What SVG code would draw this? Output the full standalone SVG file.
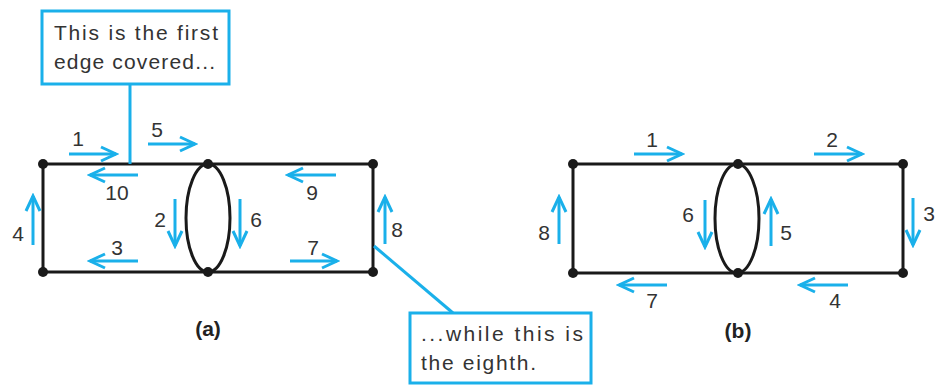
<svg xmlns="http://www.w3.org/2000/svg" width="943" height="385" viewBox="0 0 943 385">
<style>
.edge{stroke:#1a1a1a;stroke-width:3;fill:none}
.node{fill:#1a1a1a}
.arr{stroke:#1ab0ea;stroke-width:3;fill:none;marker-end:url(#ah)}
.call{stroke:#1ab0ea;stroke-width:3;fill:none}
.box{stroke:#1ab0ea;stroke-width:3;fill:#fff}
.lbl{font-family:"Liberation Sans",Arial,sans-serif;font-size:21px;fill:#333}
.cap{font-family:"Liberation Sans",Arial,sans-serif;font-size:21px;fill:#222;font-weight:bold}
.txt{font-family:"Liberation Sans",Arial,sans-serif;font-size:21px;fill:#333}
</style>
<defs>
<marker id="ah" markerUnits="userSpaceOnUse" markerWidth="20" markerHeight="18" refX="17" refY="9" orient="auto">
<path d="M2,2 L17,9 L2,16" stroke="#1ab0ea" stroke-width="3" fill="none"/>
</marker>
</defs>
<rect width="943" height="385" fill="#fff"/>

<g id="graph-a-edges" class="edges">
<path class="edge" d="M43,164 H373 V272 H43 Z"/>
<ellipse class="edge" cx="208" cy="218" rx="22" ry="54"/>
</g>
<g id="node-a1"><circle class="node" cx="43" cy="164" r="5"/></g>
<g id="node-a2"><circle class="node" cx="208" cy="164" r="5"/></g>
<g id="node-a3"><circle class="node" cx="373" cy="164" r="5"/></g>
<g id="node-a4"><circle class="node" cx="43" cy="272" r="5"/></g>
<g id="node-a5"><circle class="node" cx="208" cy="272" r="5"/></g>
<g id="node-a6"><circle class="node" cx="373" cy="272" r="5"/></g>

<g id="connectors-a">
<line class="arr" x1="69" y1="154" x2="116" y2="154"/>
<line class="arr" x1="148" y1="144" x2="195" y2="144"/>
<line class="arr" x1="138" y1="175" x2="90" y2="175"/>
<line class="arr" x1="336" y1="175" x2="288" y2="175"/>
<line class="arr" x1="33" y1="245" x2="33" y2="196"/>
<line class="arr" x1="175" y1="199" x2="175" y2="246"/>
<line class="arr" x1="240" y1="199" x2="240" y2="246"/>
<line class="arr" x1="385" y1="244" x2="385" y2="197"/>
<line class="arr" x1="138" y1="261" x2="90" y2="261"/>
<line class="arr" x1="290" y1="261" x2="337" y2="261"/>
<line class="call" x1="130" y1="84" x2="130" y2="164"/>
<line class="call" x1="374" y1="246" x2="453" y2="313"/>
</g>

<g id="labels-a">
<text class="lbl" x="78" y="146" text-anchor="middle">1</text>
<text class="lbl" x="157" y="137" text-anchor="middle">5</text>
<text class="lbl" x="117" y="200" text-anchor="middle">10</text>
<text class="lbl" x="312" y="200" text-anchor="middle">9</text>
<text class="lbl" x="18" y="241" text-anchor="middle">4</text>
<text class="lbl" x="160" y="227" text-anchor="middle">2</text>
<text class="lbl" x="256" y="227" text-anchor="middle">6</text>
<text class="lbl" x="397" y="237" text-anchor="middle">8</text>
<text class="lbl" x="117" y="255" text-anchor="middle">3</text>
<text class="lbl" x="313" y="255" text-anchor="middle">7</text>
<text class="cap" x="208" y="336" text-anchor="middle">(a)</text>
</g>

<g id="callout-first">
<rect class="box" x="42" y="11" width="187" height="73"/>
<text class="txt" x="54" y="40" textLength="164" lengthAdjust="spacing">This is the first</text>
<text class="txt" x="54" y="69" textLength="161" lengthAdjust="spacing">edge covered...</text>
</g>
<g id="callout-eighth">
<rect class="box" x="410" y="313" width="181" height="70"/>
<text class="txt" x="421" y="341" textLength="162" lengthAdjust="spacing">...while this is</text>
<text class="txt" x="421" y="370" textLength="115" lengthAdjust="spacing">the eighth.</text>
</g>

<g id="graph-b-edges">
<path class="edge" d="M573,164 H903 V273 H573 Z"/>
<ellipse class="edge" cx="737" cy="218.5" rx="22" ry="54.5"/>
</g>
<g id="node-b1"><circle class="node" cx="573" cy="164" r="5"/></g>
<g id="node-b2"><circle class="node" cx="738" cy="164" r="5"/></g>
<g id="node-b3"><circle class="node" cx="903" cy="164" r="5"/></g>
<g id="node-b4"><circle class="node" cx="573" cy="273" r="5"/></g>
<g id="node-b5"><circle class="node" cx="738" cy="273" r="5"/></g>
<g id="node-b6"><circle class="node" cx="903" cy="273" r="5"/></g>

<g id="connectors-b">
<line class="arr" x1="634" y1="154" x2="682" y2="154"/>
<line class="arr" x1="814" y1="154" x2="862" y2="154"/>
<line class="arr" x1="913" y1="198" x2="913" y2="245"/>
<line class="arr" x1="559" y1="244" x2="559" y2="197"/>
<line class="arr" x1="705" y1="200" x2="705" y2="247"/>
<line class="arr" x1="771" y1="246" x2="771" y2="199"/>
<line class="arr" x1="667" y1="285" x2="619" y2="285"/>
<line class="arr" x1="848" y1="285" x2="800" y2="285"/>
</g>

<g id="labels-b">
<text class="lbl" x="652" y="147" text-anchor="middle">1</text>
<text class="lbl" x="832" y="147" text-anchor="middle">2</text>
<text class="lbl" x="929" y="221" text-anchor="middle">3</text>
<text class="lbl" x="544" y="240" text-anchor="middle">8</text>
<text class="lbl" x="688" y="222" text-anchor="middle">6</text>
<text class="lbl" x="786" y="240" text-anchor="middle">5</text>
<text class="lbl" x="652" y="308" text-anchor="middle">7</text>
<text class="lbl" x="835" y="308" text-anchor="middle">4</text>
<text class="cap" x="738" y="338" text-anchor="middle">(b)</text>
</g>
</svg>
